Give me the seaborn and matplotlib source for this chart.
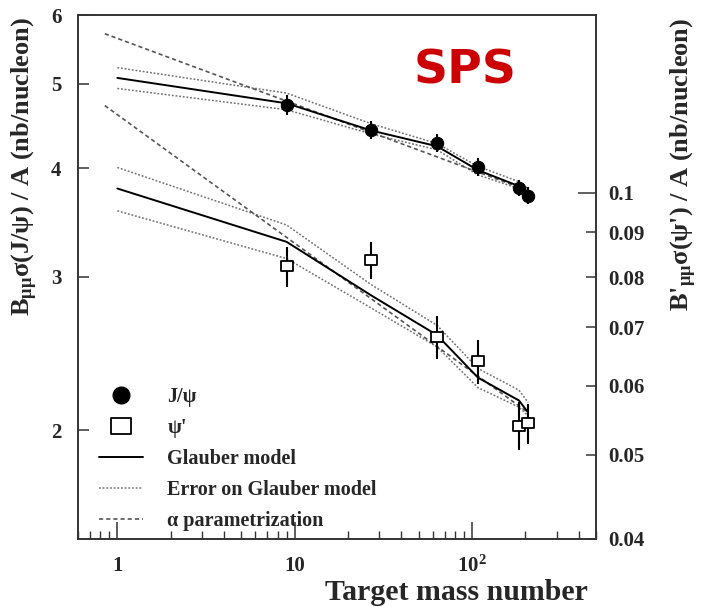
import numpy as np
import pandas as pd
import matplotlib
matplotlib.use("Agg")
import matplotlib.pyplot as plt
import seaborn as sns
from matplotlib.lines import Line2D
from matplotlib.path import Path
from matplotlib.ticker import FixedLocator, FixedFormatter, NullLocator, NullFormatter

# ---------------- data ----------------
A_data = [9, 27, 63.5, 108, 184, 207]
jpsi_val = [4.73, 4.43, 4.28, 4.01, 3.80, 3.72]
jpsi_err = [0.126, 0.106, 0.102, 0.096, 0.081, 0.084]
psip_val = [0.0823, 0.0836, 0.0683, 0.0640, 0.0540, 0.0543]
psip_err = [0.0043, 0.0041, 0.0039, 0.0038, 0.0034, 0.0029]

A_model = [1, 9, 27, 63.5, 108, 184, 207]
jpsi_glauber = [5.08, 4.75, 4.42, 4.24, 3.98, 3.815, 3.76]
jpsi_glauber_hi = [5.22, 4.88, 4.50, 4.27, 4.02, 3.86, 3.79]
jpsi_glauber_lo = [4.94, 4.67, 4.38, 4.20, 3.93, 3.79, 3.74]
psip_glauber = [0.1011, 0.0878, 0.0762, 0.0686, 0.0613, 0.0577, 0.0559]
psip_glauber_hi = [0.1069, 0.0918, 0.0784, 0.0704, 0.0628, 0.0593, 0.0574]
psip_glauber_lo = [0.0953, 0.0840, 0.0737, 0.0665, 0.0597, 0.0567, 0.0554]

A_alpha = [0.85, 207]
jpsi_alpha = [5.71, 3.77]
psip_alpha = [0.1259, 0.0559]

x_ticks = [1, 10, 100]
x_ticklabels = ["1", "10", "$10^2$"]
y_ticks = [2, 3, 4, 5, 6]
y_ticklabels = ["2", "3", "4", "5", "6"]
y2_major = [0.1]
y2_major_labels = ["0.1"]
y2_minor = [0.04, 0.05, 0.06, 0.07, 0.08, 0.09]
y2_minor_labels = ["0.04", "0.05", "0.06", "0.07", "0.08", "0.09"]

legend_labels = ["J/ψ", "ψ'", "Glauber model", "Error on Glauber model", "α parametrization"]

# ---------------- style ----------------
sns.set_style("ticks")
plt.rcParams["font.family"] = ["Liberation Serif", "DejaVu Serif"]
plt.rcParams["font.weight"] = "bold"
plt.rcParams["mathtext.fontset"] = "custom"
plt.rcParams["mathtext.rm"] = "Liberation Serif:bold"
plt.rcParams["mathtext.bf"] = "Liberation Serif:bold"
plt.rcParams["mathtext.it"] = "Liberation Serif:bold"
plt.rcParams["mathtext.default"] = "bf"

SPINE = "#333333"
fig = plt.figure(figsize=(7.04, 6.07), dpi=100)
ax = fig.add_axes([78 / 704, 1 - 539 / 607, (596 - 78) / 704, (539 - 15) / 607])
ax2 = ax.twinx()

for a in (ax, ax2):
    a.set_xscale("log")
    a.set_yscale("log")
    for s in a.spines.values():
        s.set_color(SPINE)
        s.set_linewidth(1.2)

ax.set_xlim(0.6, 500)
ax.set_ylim(1.5, 6)
ax2.set_ylim(0.04, 0.16)

err_kw = dict(color="#707070", lw=1.1, linestyle=(0, (1.2, 1.2)))
alp_kw = dict(color="#555555", lw=1.2, linestyle=(0, (2.5, 1.8)))

# J/psi models (left axis)
sns.lineplot(x=A_model, y=jpsi_glauber_hi, ax=ax, sort=False, estimator=None, **err_kw)
sns.lineplot(x=A_model, y=jpsi_glauber_lo, ax=ax, sort=False, estimator=None, **err_kw)
sns.lineplot(x=A_alpha, y=jpsi_alpha, ax=ax, sort=False, estimator=None, **alp_kw)
sns.lineplot(x=A_model, y=jpsi_glauber, ax=ax, sort=False, estimator=None, color="black", lw=1.4)

# psi' models (right axis)
sns.lineplot(x=A_model, y=psip_glauber_hi, ax=ax2, sort=False, estimator=None, **err_kw)
sns.lineplot(x=A_model, y=psip_glauber_lo, ax=ax2, sort=False, estimator=None, **err_kw)
sns.lineplot(x=A_alpha, y=psip_alpha, ax=ax2, sort=False, estimator=None, **alp_kw)
sns.lineplot(x=A_model, y=psip_glauber, ax=ax2, sort=False, estimator=None, color="black", lw=1.4)

# data points
ax.errorbar(A_data, jpsi_val, yerr=jpsi_err, fmt="none", ecolor="black", elinewidth=1.5, capsize=0, zorder=4)
sns.scatterplot(x=A_data, y=jpsi_val, ax=ax, marker="o", s=80, color="black", edgecolor="black", zorder=5)

rect = Path([(-6, -4.6), (6, -4.6), (6, 4.6), (-6, 4.6), (-6, -4.6)],
            [Path.MOVETO, Path.LINETO, Path.LINETO, Path.LINETO, Path.CLOSEPOLY])
ax2.errorbar(A_data, psip_val, yerr=psip_err, fmt="none", ecolor="black", elinewidth=1.5, capsize=0, zorder=4)
sns.scatterplot(x=A_data, y=psip_val, ax=ax2, marker=rect, s=80, facecolor="white",
                edgecolor="black", linewidth=1.3, zorder=5)

# ticks
ax.xaxis.set_major_locator(FixedLocator(x_ticks))
ax.xaxis.set_major_formatter(FixedFormatter(x_ticklabels))
ax.xaxis.set_minor_locator(matplotlib.ticker.LogLocator(base=10, subs=np.arange(2, 10)))
ax.xaxis.set_minor_formatter(NullFormatter())
ax.yaxis.set_major_locator(FixedLocator(y_ticks))
ax.yaxis.set_major_formatter(FixedFormatter(y_ticklabels))
ax.yaxis.set_minor_locator(NullLocator())

ax2.yaxis.set_major_locator(FixedLocator(y2_major))
ax2.yaxis.set_major_formatter(FixedFormatter(y2_major_labels))
ax2.yaxis.set_minor_locator(FixedLocator(y2_minor))
ax2.yaxis.set_minor_formatter(FixedFormatter(y2_minor_labels))

TL = 15
ax.tick_params(axis="x", which="major", direction="in", length=12, width=1.1, color=SPINE,
               labelsize=TL, pad=12, top=False)
ax.tick_params(axis="x", which="minor", direction="in", length=6, width=1.0, color=SPINE, top=False)
ax.tick_params(axis="y", which="major", direction="in", length=8, width=1.1, color=SPINE,
               labelsize=TL, pad=12, right=False)
ax2.tick_params(axis="y", which="major", direction="in", length=13, width=1.1, color=SPINE,
                labelsize=TL, pad=9, left=False)
ax2.tick_params(axis="y", which="minor", direction="in", length=7, width=1.1, color=SPINE,
                labelsize=TL, pad=9, left=False)

# labels
ax.set_xlabel("Target mass number", fontsize=21.5, fontweight="bold")
ax.xaxis.set_label_coords((456 - 78) / 518, (539 - 592) / 524)
ax.xaxis.label.set_va("center")
ax.set_ylabel("B$_{μμ}$σ(J/ψ) / A (nb/nucleon)", fontsize=19, fontweight="bold")
ax.yaxis.set_label_coords((25 - 78) / 518, (539 - 166) / 524)
ax.yaxis.label.set_va("center")
ax2.set_ylabel("B'$_{μμ}$σ(ψ') / A (nb/nucleon)", fontsize=19, fontweight="bold", rotation=90)
ax2.yaxis.set_label_coords((684 - 78) / 518, (539 - 164) / 524)
ax2.yaxis.label.set_va("center")

ax.text((465 - 78) / 518, (539 - 71) / 524, "SPS", transform=ax.transAxes, color="#CC0000",
        fontsize=34, fontweight="bold", family="DejaVu Sans", ha="center", va="center")

# legend
handles = [
    Line2D([], [], ls="", marker="o", ms=12, color="black"),
    Line2D([], [], ls="", marker=rect, ms=15, mfc="white", mec="black", mew=1.3),
    Line2D([], [], color="black", lw=1.4),
    Line2D([], [], **err_kw),
    Line2D([], [], **alp_kw),
]
leg = ax2.legend(handles, legend_labels, loc="upper left", bbox_to_anchor=((99 - 78) / 518, (539 - 387) / 524),
                 frameon=False, fontsize=14.5, handlelength=2.2, handletextpad=1.2, labelspacing=0.55,
                 borderpad=0, borderaxespad=0)

fig.savefig("out.png", dpi=100)
